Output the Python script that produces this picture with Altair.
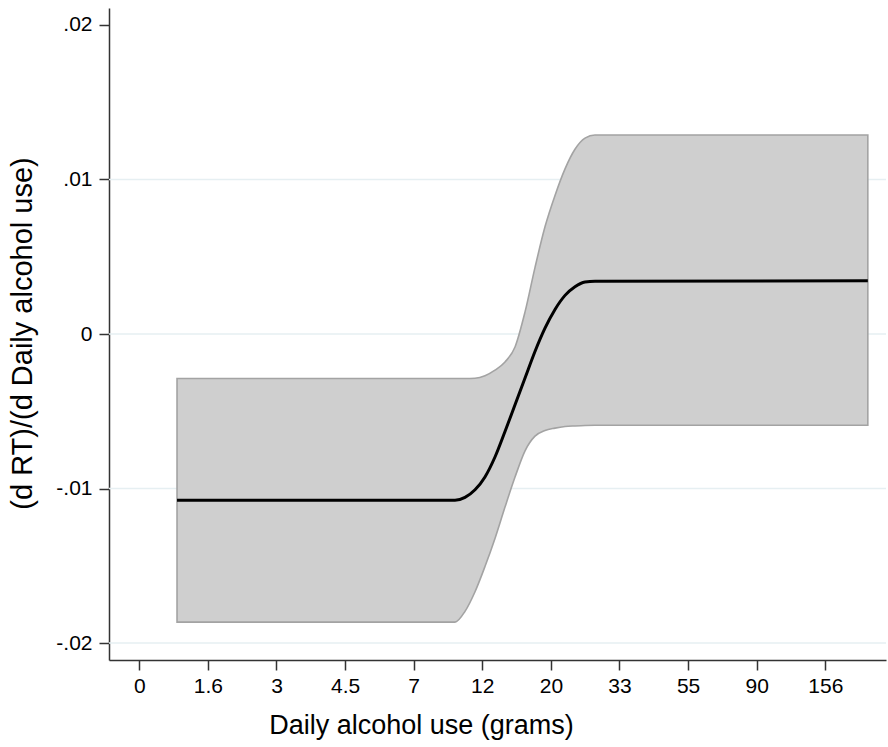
import altair as alt
import pandas as pd

# x positions are tick-slot units (0..10), labelled with grams
x_tick_values = list(range(11))
x_tick_labels = ["0", "1.6", "3", "4.5", "7", "12", "20", "33", "55", "90", "156"]
y_tick_values = [-0.02, -0.01, 0.0, 0.01, 0.02]
y_tick_labels = ["-.02", "-.01", "0", ".01", ".02"]
grid_values = [-0.02, -0.01, 0.0, 0.01]

x_pos = [0.550, 4.602, 4.748, 4.894, 5.039, 5.185, 5.331, 5.477, 5.623,
         5.768, 5.914, 6.060, 6.206, 6.351, 6.497, 6.643, 10.620]
effect = [-0.01076, -0.01076, -0.01057, -0.01008, -0.00925, -0.00796, -0.00631,
          -0.00458, -0.00285, -0.00113, 0.00038, 0.00159, 0.00250, 0.00306,
          0.00337, 0.00342, 0.00344]
ci_upper = [-0.00288, -0.00288, -0.00288, -0.00286, -0.00270, -0.00234, -0.00181,
            -0.00084, 0.00143, 0.00430, 0.00694, 0.00897, 0.01069, 0.01196,
            0.01268, 0.01288, 0.01288]
ci_lower = [-0.01865, -0.01865, -0.01795, -0.01668, -0.01505, -0.01323, -0.01120,
            -0.00926, -0.00756, -0.00661, -0.00624, -0.00609, -0.00599, -0.00595,
            -0.00592, -0.00591, -0.00591]

df = pd.DataFrame({"x": x_pos, "y": effect, "lo": ci_lower, "hi": ci_upper})
grid_df = pd.DataFrame({"g": grid_values})

x_label_expr = "[" + ",".join("'%s'" % s for s in x_tick_labels) + "][datum.value]"
y_label_expr = "[" + ",".join("'%s'" % s for s in y_tick_labels) + "][round(datum.value*100)+2]"

x_scale = alt.Scale(domain=[-0.4417, 10.885], nice=False, zero=False)
y_scale = alt.Scale(domain=[-0.0211, 0.0211], nice=False, zero=False)

x_axis = alt.Axis(
    values=x_tick_values, labelExpr=x_label_expr, title="Daily alcohol use (grams)",
    grid=False, tickSize=10, labelPadding=5, labelFontSize=21,
    titleFontSize=27, titleX=312, titleY=65, titleBaseline="middle", titleAlign="center",
)
y_axis = alt.Axis(
    values=y_tick_values, labelExpr=y_label_expr, title="(d RT)/(d Daily alcohol use)",
    grid=False, tickSize=10, labelPadding=7, labelFontSize=21,
    titleFontSize=29, titleAngle=270, titleX=-87, titleY=325,
    titleBaseline="middle", titleAlign="center",
)

grid = alt.Chart(grid_df).mark_rule(color="#e6eff2", strokeWidth=1.5).encode(
    x=alt.value(0), x2=alt.value(777),
    y=alt.Y("g:Q", scale=y_scale, axis=y_axis),
)

band = alt.Chart(df).mark_area(
    color="#cfcfcf", fillOpacity=1, stroke="#a3a3a3", strokeWidth=1.6,
    interpolate="monotone"
).encode(
    x=alt.X("x:Q", scale=x_scale, axis=x_axis),
    y=alt.Y("lo:Q", scale=y_scale, axis=y_axis),
    y2="hi:Q",
)

line = alt.Chart(df).mark_line(color="#000000", strokeWidth=3, interpolate="monotone").encode(
    x=alt.X("x:Q", scale=x_scale, axis=x_axis),
    y=alt.Y("y:Q", scale=y_scale, axis=y_axis),
)

chart = alt.layer(grid, band, line).properties(
    width=777, height=652,
    autosize=alt.AutoSizeParams(type="none"),
    padding={"left": 109, "top": 8, "right": 2, "bottom": 87},
    background="white",
).configure_view(stroke=None).configure_axis(
    domainColor="#333333", domainWidth=1.5, tickColor="#333333", tickWidth=1.5,
    labelColor="#000000", titleColor="#000000",
    labelFont="Liberation Sans", titleFont="Liberation Sans", titleFontWeight="normal",
)

chart.save("out.html", embed_options={"renderer": "svg", "actions": False})
